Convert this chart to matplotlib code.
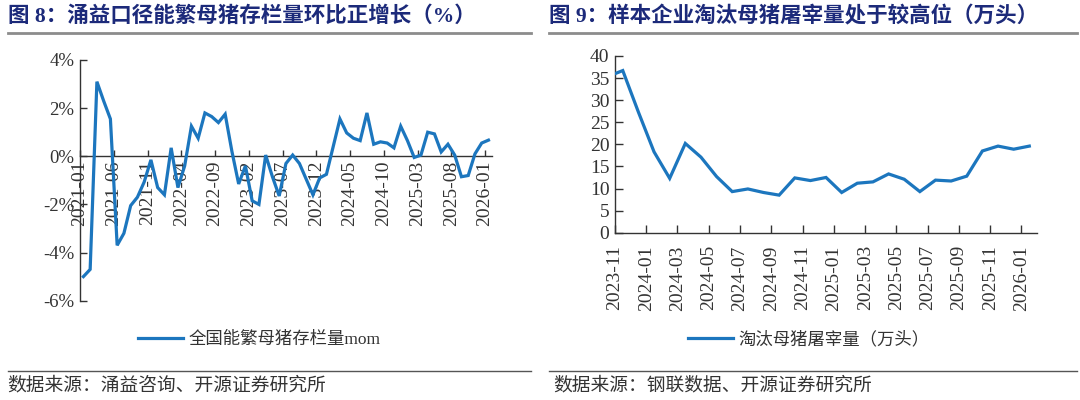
import matplotlib
matplotlib.use("Agg")
import matplotlib.pyplot as plt
from matplotlib.lines import Line2D

plt.rcParams['font.family'] = ['Liberation Serif', 'Noto Sans CJK SC', 'DejaVu Sans']
plt.rcParams['axes.unicode_minus'] = False

# ---------------- data ----------------
left_title = "图 8：涌益口径能繁母猪存栏量环比正增长（%）"
right_title = "图 9：样本企业淘汰母猪屠宰量处于较高位（万头）"
left_source = "数据来源：涌益咨询、开源证券研究所"
right_source = "数据来源：钢联数据、开源证券研究所"
left_series_name = "全国能繁母猪存栏量mom"
right_series_name = "淘汰母猪屠宰量（万头）"

# monthly 2021-01 .. 2026-01 (%)
left_mom = [-5.0, -4.7, 3.1, 2.3, 1.55, -3.7, -3.2, -2.05, -1.7, -1.07,
            -0.15, -1.3, -1.6, 0.35, -1.3, -0.4, 1.25, 0.75, 1.8, 1.65,
            1.4, 1.75, 0.2, -1.15, -0.4, -1.85, -2.0, 0.05, -0.85, -1.65,
            -0.3, 0.05, -0.3, -0.95, -1.6, -0.9, -0.75, 0.4, 1.55, 0.97,
            0.75, 0.65, 1.8, 0.5, 0.6, 0.55, 0.35, 1.25, 0.65, -0.05,
            0.05, 1.0, 0.93, 0.18, 0.5, 0.05, -0.85, -0.8, 0.1, 0.55, 0.67]
left_ticklabels = ["2021-01", "2021-06", "2021-11", "2022-04", "2022-09",
                   "2023-02", "2023-07", "2023-12", "2024-05", "2024-10",
                   "2025-03", "2025-08", "2026-01"]
left_yticks = [-6, -4, -2, 0, 2, 4]
left_yticklabels = ["-6%", "-4%", "-2%", "0%", "2%", "4%"]

# monthly 2023-10 .. 2026-01 (万头); axis starts at 2023-11
right_vals = [35.3, 36.7, 27.3, 18.3, 12.3, 20.2, 17.1, 12.7, 9.3, 9.9,
              9.1, 8.5, 12.4, 11.8, 12.5, 9.1, 11.2, 11.5, 13.3, 12.1,
              9.3, 11.9, 11.7, 12.8, 18.5, 19.6, 18.9, 19.6]
right_ticklabels = ["2023-11", "2024-01", "2024-03", "2024-05", "2024-07",
                    "2024-09", "2024-11", "2025-01", "2025-03", "2025-05",
                    "2025-07", "2025-09", "2025-11", "2026-01"]
right_yticks = [0, 5, 10, 15, 20, 25, 30, 35, 40]

# ---------------- style ----------------
LINE_C = "#1C76BE"
TITLE_C = "#1C2A7A"
AX_C = "#333333"
RULE_C = "#8C8C8C"
TXT_C = "#333333"

fig = plt.figure(figsize=(10.8, 4.0), dpi=100)

# ---------- left chart ----------
axL = fig.add_axes([0.0741, 0.2483, 0.3813, 0.6017])
axL.spines['top'].set_visible(False)
axL.spines['right'].set_visible(False)
axL.spines['bottom'].set_position(('data', 0))
xl = [i + 0.5 for i in range(len(left_mom))]
axL.plot(xl, left_mom, color=LINE_C, lw=2.3, solid_joinstyle='miter', zorder=4)
axL.set_xlim(0, len(left_mom))
axL.set_ylim(-6, 4)
axL.set_xticks(range(0, len(left_mom), 5))
axL.set_xticklabels(left_ticklabels, rotation=90, fontsize=14, color=AX_C)
axL.set_yticks(left_yticks)
axL.set_yticklabels(left_yticklabels, fontsize=13.5, color=AX_C)
for s in ('left', 'bottom'):
    axL.spines[s].set_color(AX_C)
    axL.spines[s].set_linewidth(1.0)
axL.tick_params(axis='x', direction='in', length=4, width=1, color=AX_C, pad=3)
axL.tick_params(axis='y', direction='in', length=5, width=1, color=AX_C, pad=4)

# ---------- right chart ----------
axR = fig.add_axes([0.5694, 0.4183, 0.3909, 0.4417])
xr = [i - 0.5 for i in range(len(right_vals))]
axR.plot(xr, right_vals, color=LINE_C, lw=2.3, solid_joinstyle='miter', zorder=4)
axR.set_xlim(0, len(right_vals) - 1)
axR.set_ylim(0, 40)
axR.set_xticks(range(0, len(right_vals) - 1, 2))
axR.set_xticklabels(right_ticklabels, rotation=90, fontsize=14, color=AX_C)
axR.set_yticks(right_yticks)
axR.set_yticklabels([str(v) for v in right_yticks], fontsize=14, color=AX_C)
axR.spines['top'].set_visible(False)
axR.spines['right'].set_visible(False)
for s in ('left', 'bottom'):
    axR.spines[s].set_color(AX_C)
    axR.spines[s].set_linewidth(1.0)
axR.tick_params(axis='x', direction='in', length=6, width=1, color=AX_C, pad=9)
axR.tick_params(axis='y', direction='in', length=6, width=1, color=AX_C, pad=4)

# ---------- legends ----------
axL.legend([left_series_name], loc='center left', bbox_to_anchor=(0.128, 0.15),
           bbox_transform=fig.transFigure, frameon=False, fontsize=12.5,
           handlelength=2.6, handletextpad=0.3, borderpad=0, borderaxespad=0,
           labelcolor=TXT_C)
axR.legend([right_series_name], loc='center left', bbox_to_anchor=(0.637, 0.15),
           bbox_transform=fig.transFigure, frameon=False, fontsize=12.5,
           handlelength=2.6, handletextpad=0.3, borderpad=0, borderaxespad=0,
           labelcolor=TXT_C)

# ---------- titles, rules, sources ----------
fig.text(0.007, 0.958, left_title, fontsize=15.5, fontweight='bold', color=TITLE_C,
         va='center', ha='left')
fig.text(0.508, 0.958, right_title, fontsize=15.5, fontweight='bold', color=TITLE_C,
         va='center', ha='left')
for x0, x1 in ((0.007, 0.492), (0.508, 0.997)):
    fig.add_artist(Line2D([x0, x1], [0.917, 0.917], transform=fig.transFigure,
                          color=RULE_C, lw=2))
    fig.add_artist(Line2D([x0, x1], [0.073, 0.073], transform=fig.transFigure,
                          color="#555555", lw=1))
fig.text(0.007, 0.036, left_source, fontsize=13.5, color=TXT_C, va='center', ha='left')
fig.text(0.512, 0.036, right_source, fontsize=13.5, color=TXT_C, va='center', ha='left')

fig.savefig("out.png", dpi=100)
